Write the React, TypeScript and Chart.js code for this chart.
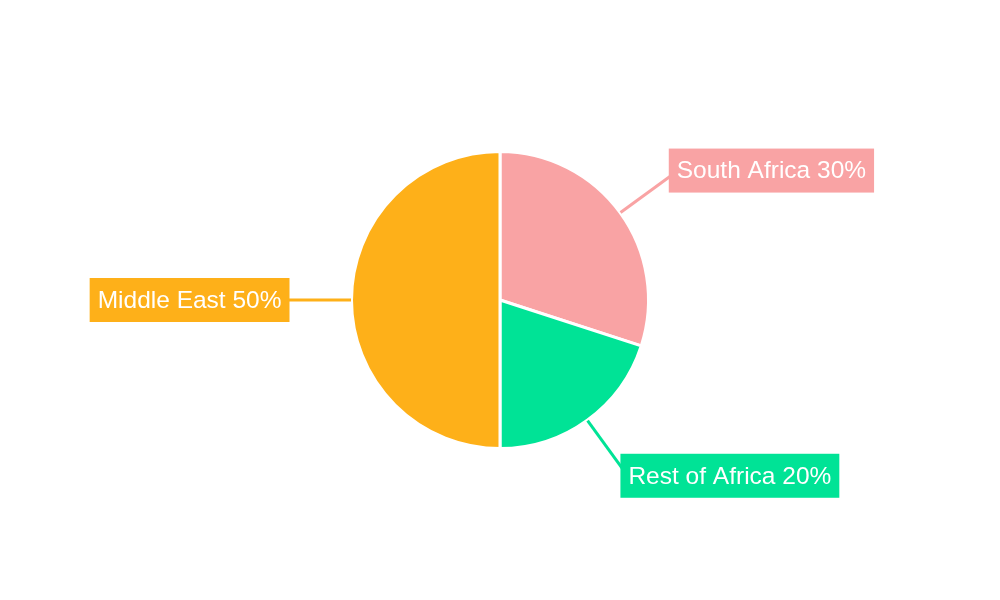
import React, { useEffect, useRef } from "react";
import { Chart, registerables } from "chart.js";

Chart.register(...registerables);

const categories = ["South Africa", "Rest of Africa", "Middle East"];
const shares = [30, 20, 50];
const sliceColors = ["#F9A3A4", "#00E396", "#FEB019"];

const labelPlugin = {
  id: "calloutLabels",
  afterDatasetsDraw(chart: any) {
    const ctx = chart.ctx;
    const meta = chart.getDatasetMeta(0);
    const fontSize = 24.5;
    ctx.save();
    ctx.font = `${fontSize}px "Liberation Sans", Arial, sans-serif`;
    ctx.textBaseline = "middle";
    meta.data.forEach((arc: any, i: number) => {
      const { x, y, startAngle, endAngle, outerRadius } = arc.getProps(
        ["x", "y", "startAngle", "endAngle", "outerRadius"],
        true
      );
      const mid = (startAngle + endAngle) / 2;
      const cos = Math.cos(mid);
      const sin = Math.sin(mid);
      const r0 = outerRadius + 0.5;
      const r1 = outerRadius + 70;
      const ax = x + cos * r1;
      const ay = y + sin * r1;
      const color = sliceColors[i];
      // leader line
      ctx.strokeStyle = color;
      ctx.lineWidth = 3;
      ctx.beginPath();
      ctx.moveTo(x + cos * r0, y + sin * r0);
      ctx.lineTo(ax, ay);
      ctx.stroke();
      // box
      const text = `${categories[i]} ${shares[i]}%`;
      const w = ctx.measureText(text).width;
      const pad = 8;
      const right = cos >= 0;
      const tx = right ? ax : ax - w;
      const boxH = 44;
      const by = Math.abs(sin) > 0.2 ? ay - 1 : ay;
      ctx.fillStyle = color;
      ctx.fillRect(tx - pad, by - boxH / 2, w + pad * 2, boxH);
      ctx.fillStyle = "#ffffff";
      ctx.textAlign = "left";
      ctx.fillText(text, tx, by + 1);
    });
    ctx.restore();
  },
};

export default function App() {
  const ref = useRef<HTMLCanvasElement>(null);
  useEffect(() => {
    document.body.style.margin = "0";
    const chart = new Chart(ref.current!, {
      type: "pie",
      data: {
        labels: categories,
        datasets: [
          {
            data: shares,
            backgroundColor: sliceColors,
            borderColor: "#ffffff",
            borderWidth: 3,
          },
        ],
      },
      options: {
        responsive: false,
        animation: false,
        layout: { padding: { top: 150, bottom: 150, left: 0, right: 0 } },
        plugins: {
          legend: { display: false },
          tooltip: { enabled: false },
        },
      },
      plugins: [labelPlugin],
    });
    return () => chart.destroy();
  }, []);
  return (
    <div style={{ width: 1000, height: 600, background: "#fff" }}>
      <canvas ref={ref} width={1000} height={600} />
    </div>
  );
}
